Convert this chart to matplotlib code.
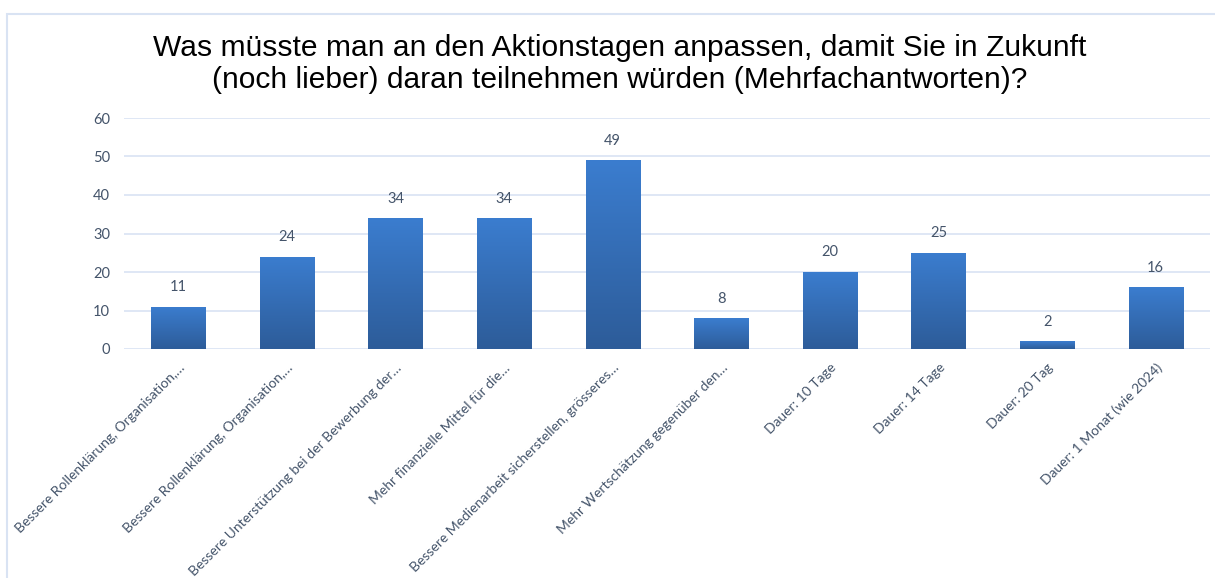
import matplotlib
matplotlib.use("Agg")
import matplotlib.pyplot as plt
import numpy as np
from matplotlib.colors import LinearSegmentedColormap
from matplotlib.patches import Rectangle

categories = [
    "Bessere Rollenklärung, Organisation,…",
    "Bessere Rollenklärung, Organisation,…",
    "Bessere Unterstützung bei der Bewerbung der…",
    "Mehr finanzielle Mittel für die…",
    "Bessere Medienarbeit sicherstellen, grösseres…",
    "Mehr Wertschätzung gegenüber den…",
    "Dauer: 10 Tage",
    "Dauer: 14 Tage",
    "Dauer: 20 Tag",
    "Dauer: 1 Monat (wie 2024)",
]
values = [11, 24, 34, 34, 49, 8, 20, 25, 2, 16]
yticks = [0, 10, 20, 30, 40, 50, 60]
title = ("Was müsste man an den Aktionstagen anpassen, damit Sie in Zukunft\n"
         "(noch lieber) daran teilnehmen würden (Mehrfachantworten)?")

text_color = "#44546a"
grid_color = "#d9e3f3"
top_col = "#3b7dcf"
bot_col = "#2d5c99"
label_font = ["Lato", "DejaVu Sans"]

fig = plt.figure(figsize=(12.15, 5.78), dpi=100)
fig.patch.set_facecolor("white")

# outer chart frame (light blue), extends beyond right/bottom edges
fig.patches.append(Rectangle((7 / 1215, -0.1), 1.2, 1 - 14 / 578 + 0.1,
                             transform=fig.transFigure, fill=False,
                             edgecolor=grid_color, linewidth=1.5, zorder=0))

ax = fig.add_axes([124 / 1215, 1 - 349 / 578, (1210 - 124) / 1215, (349 - 118) / 578])
x = np.arange(len(categories))
bars = ax.bar(x, values, width=0.5, color="none", edgecolor="none", zorder=3)

cmap = LinearSegmentedColormap.from_list("g", [bot_col, top_col])
grad = np.linspace(0, 1, 256).reshape(-1, 1)
for b in bars:
    x0, y0 = b.get_x(), b.get_y()
    w, h = b.get_width(), b.get_height()
    im = ax.imshow(grad, cmap=cmap, origin="lower", aspect="auto",
                   extent=(x0, x0 + w, y0, y0 + h), zorder=3)
    im.set_clip_path(b)

ax.set_xlim(-0.5, len(categories) - 0.5)
ax.set_ylim(0, 60)
ax.set_yticks(yticks)
ax.yaxis.grid(True, color=grid_color, linewidth=1.2, zorder=0)
ax.set_axisbelow(True)
for s in ax.spines.values():
    s.set_visible(False)
ax.tick_params(axis="both", length=0, colors=text_color)
ax.tick_params(axis="y", pad=10)
for t in ax.get_yticklabels():
    t.set_fontfamily(label_font)
    t.set_fontsize(10.5)

ax.set_xticks(x)
ax.set_xticklabels(categories, rotation=45, ha="right", va="top",
                   rotation_mode="anchor", fontsize=10, family=label_font,
                   color=text_color)
ax.tick_params(axis="x", pad=9)

for xi, v in zip(x, values):
    ax.annotate(str(v), (xi, v), xytext=(0, 9), textcoords="offset points",
                ha="center", va="bottom", fontsize=10.5, family=label_font,
                color=text_color)

fig.text(0.51, 0.889, title, ha="center", va="center", fontsize=21.6,
         family=["Liberation Sans", "DejaVu Sans"], color="black",
         linespacing=1.2)

fig.savefig("out.png", dpi=100, facecolor="white")
